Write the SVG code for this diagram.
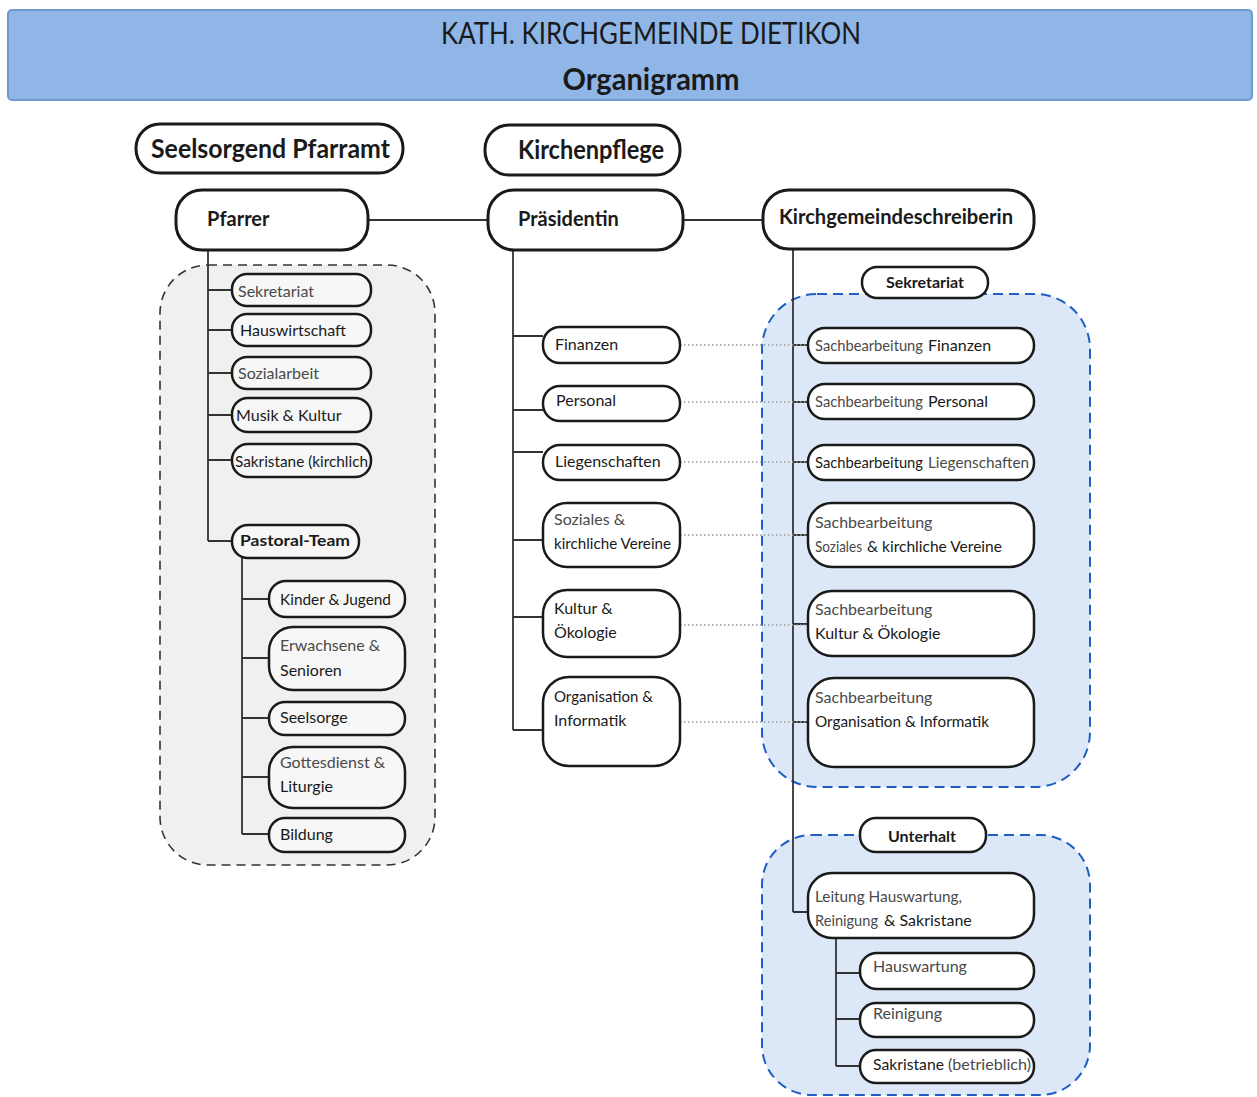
<svg xmlns="http://www.w3.org/2000/svg" width="1257" height="1097" viewBox="0 0 1257 1097">
<style>
text{font-family:Lato,"Open Sans","Liberation Sans",sans-serif;fill:#1a1a1a}
.box{fill:#fff;stroke:#1a1a1a;stroke-width:2.5}
.lbox{fill:#f6f7f6;stroke:#1a1a1a;stroke-width:2.5}
.big{fill:#fff;stroke:#1a1a1a;stroke-width:3}
.ln{stroke:#333;stroke-width:1.8;fill:none}
.dot{stroke:#9a9a9a;stroke-width:1.6;stroke-dasharray:1.5 2.5;fill:none}
.t{font-size:16px}
.g{fill:#4a4a4a}
.h1{font-size:26px;font-weight:bold}
.h2{font-size:20px;font-weight:bold}
</style>
<rect x="0" y="0" width="1257" height="1097" fill="#fff"/>
<g id="header">
<rect x="8" y="10" width="1244" height="90" rx="4" fill="#8fb6e6" stroke="#6f98cf" stroke-width="2"/>
<text x="651" y="44" text-anchor="middle" font-size="30" textLength="420" lengthAdjust="spacingAndGlyphs">KATH. KIRCHGEMEINDE DIETIKON</text>
<text x="651" y="90" text-anchor="middle" font-size="31" font-weight="bold" textLength="177" lengthAdjust="spacingAndGlyphs">Organigramm</text>
</g>
<g id="groups">
<rect x="160" y="265" width="275" height="600" rx="48" fill="#eff1ef" stroke="#333" stroke-width="1.6" stroke-dasharray="9 6"/>
<rect x="762" y="294" width="328" height="493" rx="55" fill="#dce8f8" stroke="#1d5fc4" stroke-width="2" stroke-dasharray="10 6"/>
<rect x="762" y="835" width="328" height="260" rx="50" fill="#dce8f8" stroke="#1d5fc4" stroke-width="2" stroke-dasharray="10 6"/>
</g>
<g id="connectors">
<path class="ln" d="M368 220H488M683 220H763"/>
<path class="ln" d="M208 250V541M208 290H232M208 330H232M208 373H232M208 415H232M208 460H232M208 541H232"/>
<path class="ln" d="M242 558V834M242 599H269M242 658H269M242 718H269M242 777H269M242 834H269"/>
<path class="ln" d="M513 250V730M513 336H543M513 410H543M513 452H543M513 540H543M513 617H543M513 730H543"/>
<path class="ln" d="M793 249V912M793 345H808M793 402H808M793 462H808M793 535H808M793 624H808M793 722H808M793 912H808"/>
<path class="ln" d="M836 938V1066M836 973H860M836 1019H860M836 1066H860"/>
<path class="dot" d="M680 345H808M680 402H808M680 462H808M680 535H808M680 625H808M680 722H808"/>
</g>
<g id="n-seelsorgend"><rect class="big" x="136" y="124" width="267" height="49" rx="24"/><text class="h1" x="151" y="158" textLength="239" lengthAdjust="spacingAndGlyphs">Seelsorgend Pfarramt</text></g>
<g id="n-kirchenpflege"><rect class="big" x="485" y="125" width="195" height="50" rx="24"/><text class="h1" x="518" y="159" textLength="146" lengthAdjust="spacingAndGlyphs">Kirchenpflege</text></g>
<g id="n-pfarrer"><rect class="big" x="176" y="190" width="192" height="60" rx="26"/><text class="h2" x="207" y="226">Pfarrer</text></g>
<g id="n-praesidentin"><rect class="big" x="488" y="190" width="195" height="60" rx="26"/><text class="h2" x="518" y="226">Präsidentin</text></g>
<g id="n-kgs"><rect class="big" x="763" y="190" width="271" height="59" rx="26"/><text class="h2" x="779" y="224" textLength="234" lengthAdjust="spacingAndGlyphs">Kirchgemeindeschreiberin</text></g>

<g id="n-sekretariat-l"><rect class="lbox" x="232" y="274" width="139" height="32" rx="15"/><text class="t g" x="238" y="297">Sekretariat</text></g>
<g id="n-hauswirtschaft"><rect class="lbox" x="232" y="314" width="139" height="32" rx="15"/><text class="t" x="240" y="336">Hauswirtschaft</text></g>
<g id="n-sozialarbeit"><rect class="lbox" x="232" y="357" width="139" height="32" rx="15"/><text class="t g" x="238" y="379">Sozialarbeit</text></g>
<g id="n-musik"><rect class="lbox" x="232" y="398" width="139" height="34" rx="16"/><text class="t" x="236" y="421">Musik &amp; Kultur</text></g>
<g id="n-sakristane-k"><rect class="lbox" x="232" y="444" width="139" height="33" rx="16"/><text class="t" x="235" y="467" textLength="133" lengthAdjust="spacingAndGlyphs">Sakristane (kirchlich</text></g>
<g id="n-pastoral"><rect class="lbox" x="232" y="525" width="127" height="33" rx="16"/><text class="t" x="240" y="546" font-weight="bold" textLength="110" lengthAdjust="spacingAndGlyphs">Pastoral-Team</text></g>
<g id="n-kinder"><rect class="lbox" x="269" y="581" width="136" height="36" rx="17"/><text class="t" x="280" y="605" textLength="111" lengthAdjust="spacingAndGlyphs">Kinder &amp; Jugend</text></g>
<g id="n-erwachsene"><rect class="lbox" x="269" y="627" width="136" height="63" rx="24"/><text class="t g" x="280" y="651">Erwachsene &amp;</text><text class="t" x="280" y="676">Senioren</text></g>
<g id="n-seelsorge"><rect class="lbox" x="269" y="702" width="136" height="33" rx="16"/><text class="t" x="280" y="723">Seelsorge</text></g>
<g id="n-gottesdienst"><rect class="lbox" x="269" y="747" width="136" height="61" rx="24"/><text class="t g" x="280" y="768">Gottesdienst &amp;</text><text class="t" x="280" y="792">Liturgie</text></g>
<g id="n-bildung"><rect class="lbox" x="269" y="818" width="136" height="34" rx="16"/><text class="t" x="280" y="840">Bildung</text></g>

<g id="n-finanzen"><rect class="box" x="543" y="327" width="137" height="36" rx="17"/><text class="t" x="555" y="350">Finanzen</text></g>
<g id="n-personal"><rect class="box" x="543" y="386" width="137" height="35" rx="17"/><text class="t" x="556" y="406">Personal</text></g>
<g id="n-liegenschaften"><rect class="box" x="543" y="445" width="137" height="35" rx="17"/><text class="t" x="555" y="467">Liegenschaften</text></g>
<g id="n-soziales"><rect class="box" x="543" y="503" width="137" height="64" rx="24"/><text class="t g" x="554" y="525">Soziales &amp;</text><text class="t" x="554" y="549" textLength="117" lengthAdjust="spacingAndGlyphs">kirchliche Vereine</text></g>
<g id="n-kultur"><rect class="box" x="543" y="590" width="137" height="67" rx="24"/><text class="t" x="554" y="614">Kultur &amp;</text><text class="t" x="554" y="638">Ökologie</text></g>
<g id="n-organisation"><rect class="box" x="543" y="677" width="137" height="89" rx="26"/><text class="t" x="554" y="702" textLength="99" lengthAdjust="spacingAndGlyphs">Organisation &amp;</text><text class="t" x="554" y="726">Informatik</text></g>

<g id="n-sekretariat-r"><rect class="box" x="862" y="267" width="126" height="31" rx="15"/><text class="t" x="925" y="288" text-anchor="middle" font-weight="bold">Sekretariat</text></g>
<g id="n-sb-finanzen"><rect class="box" x="808" y="328" width="226" height="35" rx="17"/><text class="t g" x="815" y="351" textLength="108" lengthAdjust="spacingAndGlyphs">Sachbearbeitung</text><text class="t" x="928" y="351">Finanzen</text></g>
<g id="n-sb-personal"><rect class="box" x="808" y="384" width="226" height="35" rx="17"/><text class="t g" x="815" y="407" textLength="108" lengthAdjust="spacingAndGlyphs">Sachbearbeitung</text><text class="t" x="928" y="407">Personal</text></g>
<g id="n-sb-liegenschaften"><rect class="box" x="808" y="445" width="226" height="35" rx="17"/><text class="t" x="815" y="468" textLength="108" lengthAdjust="spacingAndGlyphs">Sachbearbeitung</text><text class="t g" x="928" y="468" textLength="101" lengthAdjust="spacingAndGlyphs">Liegenschaften</text></g>
<g id="n-sb-soziales"><rect class="box" x="808" y="503" width="226" height="64" rx="24"/><text class="t g" x="815" y="528">Sachbearbeitung</text><text class="t g" x="815" y="552" textLength="47" lengthAdjust="spacingAndGlyphs">Soziales</text><text class="t" x="867" y="552" textLength="135" lengthAdjust="spacingAndGlyphs">&amp; kirchliche Vereine</text></g>
<g id="n-sb-kultur"><rect class="box" x="808" y="591" width="226" height="65" rx="24"/><text class="t g" x="815" y="615">Sachbearbeitung</text><text class="t" x="815" y="639">Kultur &amp; Ökologie</text></g>
<g id="n-sb-organisation"><rect class="box" x="808" y="678" width="226" height="89" rx="26"/><text class="t g" x="815" y="703">Sachbearbeitung</text><text class="t" x="815" y="727" textLength="174" lengthAdjust="spacingAndGlyphs">Organisation &amp; Informatik</text></g>

<g id="n-unterhalt"><rect class="box" x="860" y="818" width="126" height="34" rx="16"/><text class="t" x="922" y="842" text-anchor="middle" font-weight="bold" font-size="18">Unterhalt</text></g>
<g id="n-leitung"><rect class="box" x="808" y="873" width="226" height="65" rx="24"/><text class="t g" x="815" y="902" textLength="147" lengthAdjust="spacingAndGlyphs">Leitung Hauswartung,</text><text class="t g" x="815" y="926" textLength="63" lengthAdjust="spacingAndGlyphs">Reinigung</text><text class="t" x="884" y="926">&amp; Sakristane</text></g>
<g id="n-hauswartung"><rect class="box" x="860" y="953" width="174" height="36" rx="17"/><text class="t g" x="873" y="972">Hauswartung</text></g>
<g id="n-reinigung"><rect class="box" x="860" y="1003" width="174" height="34" rx="16"/><text class="t g" x="873" y="1019">Reinigung</text></g>
<g id="n-sakristane-b"><rect class="box" x="860" y="1050" width="174" height="33" rx="16"/><text class="t" x="873" y="1070" textLength="71" lengthAdjust="spacingAndGlyphs">Sakristane</text><text class="t g" x="948" y="1070" textLength="83" lengthAdjust="spacingAndGlyphs">(betrieblich)</text></g>
</svg>
